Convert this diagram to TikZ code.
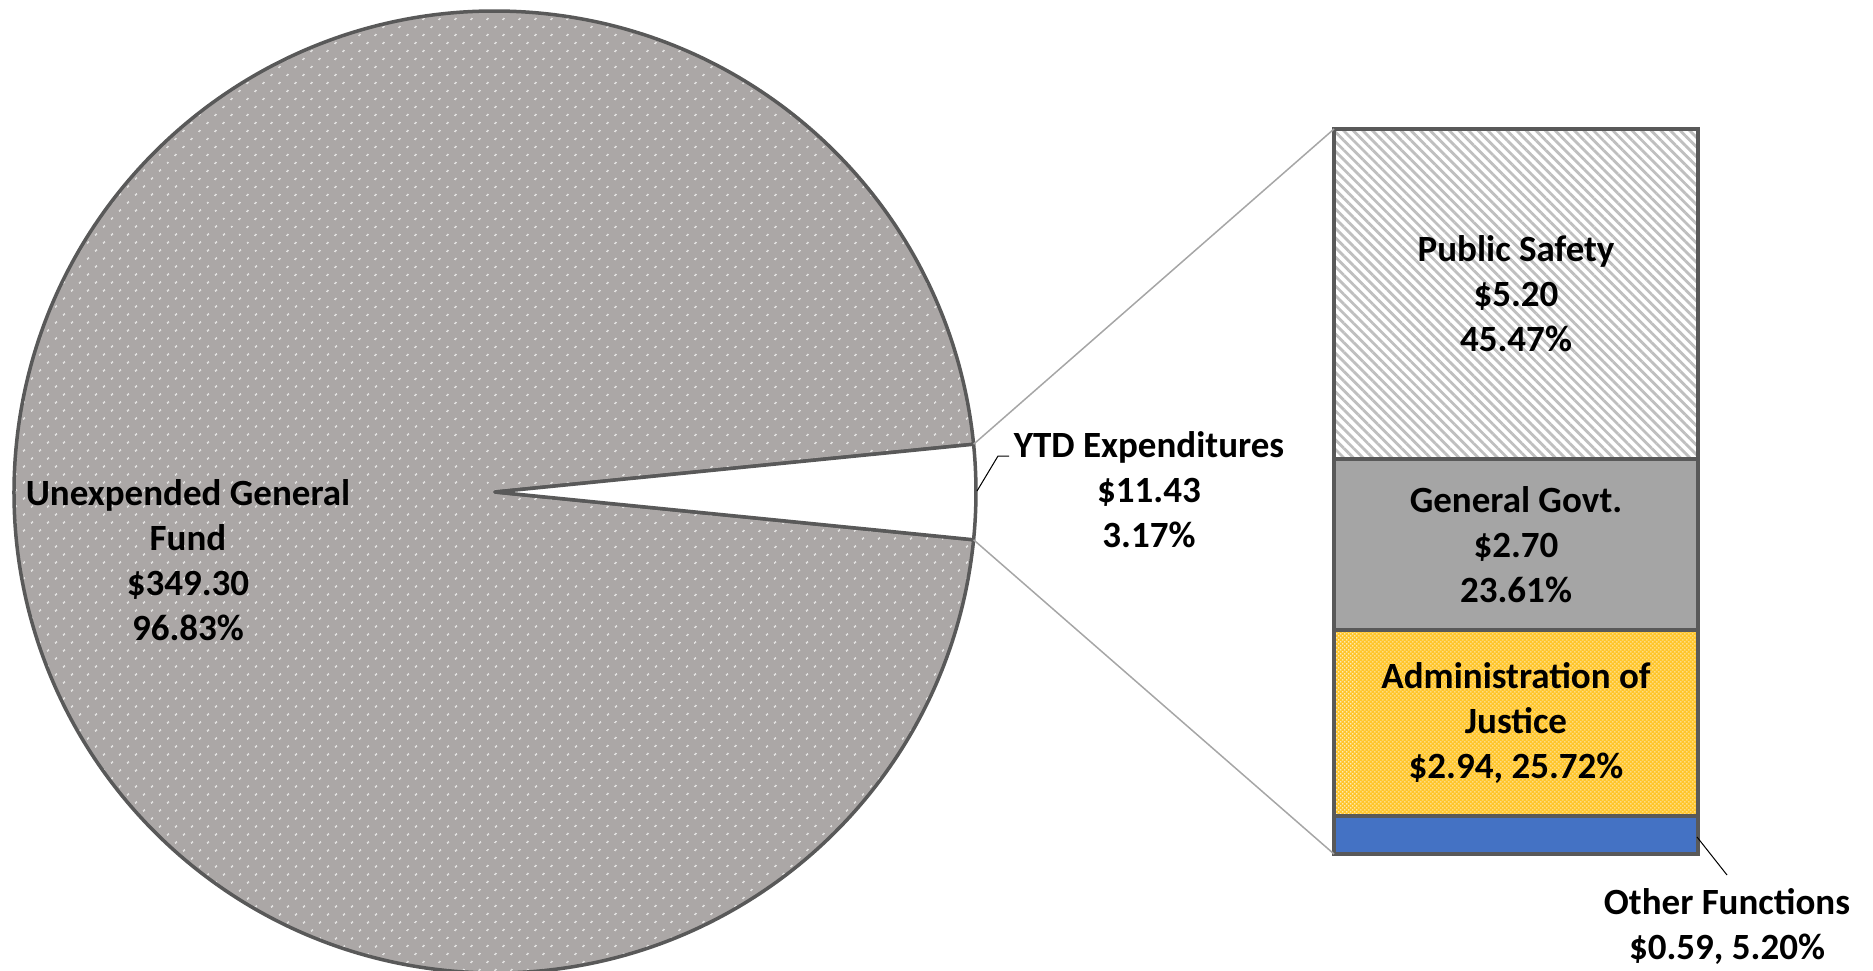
\documentclass[tikz,border=0pt]{standalone}
\usepackage{fontspec}
\setmainfont{Carlito}
\usetikzlibrary{patterns.meta}
\definecolor{piegray}{HTML}{ABA7A6}
\definecolor{edgegray}{HTML}{595959}
\definecolor{ggray}{HTML}{A5A5A5}
\definecolor{stripegray}{HTML}{BFBFBF}
\definecolor{jyellow}{HTML}{FFC52A}
\definecolor{oblue}{HTML}{4472C4}
\definecolor{conngray}{HTML}{A6A6A6}
\begin{document}
\begin{tikzpicture}[x=1pt,y=-1pt,
  lbl/.style={font=\fontsize{37}{45}\selectfont\bfseries, align=center, inner sep=0pt, text=black},
  seg/.style={lbl, draw=edgegray, line width=3.5pt, minimum width=364pt, anchor=north west, outer sep=0pt},
  zoomline/.style={draw=conngray, line width=1.5pt},
  leader/.style={draw=black, line width=1pt},
  pieedge/.style={draw=edgegray, line width=3.5pt, line join=round}]
\useasboundingbox (0,0) rectangle (1873,970);
\coordinate (c) at (495,492);
% big slice
\path[preaction={fill=piegray}, pattern={Dots[angle=45,distance=11.31pt,radius=1.1pt]}, pattern color=white]
  (c) -- ++(5.7:481) arc[start angle=5.7,end angle=354.3,radius=481] -- cycle;
\draw[pieedge] (c) -- ++(5.7:481) arc[start angle=5.7,end angle=354.3,radius=481] -- cycle;
% small slice
\draw[pieedge, fill=white] (c) -- ++(-5.7:481) arc[start angle=-5.7,end angle=5.7,radius=481] -- cycle;
\coordinate (pu) at (973.6,444.2);
\coordinate (pl) at (973.6,539.8);
% bar
\node[seg, minimum height=330pt, preaction={fill=white}, pattern={Lines[angle=-45,distance=6.8pt,line width=2.8pt]}, pattern color=stripegray] (ps) at (1334,129) {Public Safety\\\$5.20\\45.47\%};
\node[seg, minimum height=171pt, fill=ggray] (gg) at (1334,459) {General Govt.\\\$2.70\\23.61\%};
\node[seg, minimum height=186pt, preaction={fill=jyellow}, pattern={Dots[angle=45,distance=2.83pt,radius=0.72pt]}, pattern color=white] (aj) at (1334,630) {Administration of\\Justice\\\$2.94, 25.72\%};
\node[seg, minimum height=38pt, fill=oblue] (of) at (1334,816) {};
% zoom connectors
\draw[zoomline] (pu) -- (ps.north west);
\draw[zoomline] (pl) -- (of.south west);
% labels
\node[lbl] (uf) at (188,560) {Unexpended General\\Fund\\\$349.30\\96.83\%};
\node[lbl] (ytd) at (1149,490) {YTD Expenditures\\\$11.43\\3.17\%};
\coordinate (ytdtip) at (977,491);
\coordinate (ytdknee) at (998,456);
\coordinate (ytdend) at (1009,456);
\draw[leader] (ytdtip) -- (ytdknee) -- (ytdend);
\node[lbl] (oft) at (1727,926) {Other Functions\\\$0.59, 5.20\%};
\coordinate (oftip) at (1697,837);
\coordinate (ofend) at (1727,875);
\draw[leader] (oftip) -- (ofend);
\end{tikzpicture}
\end{document}
